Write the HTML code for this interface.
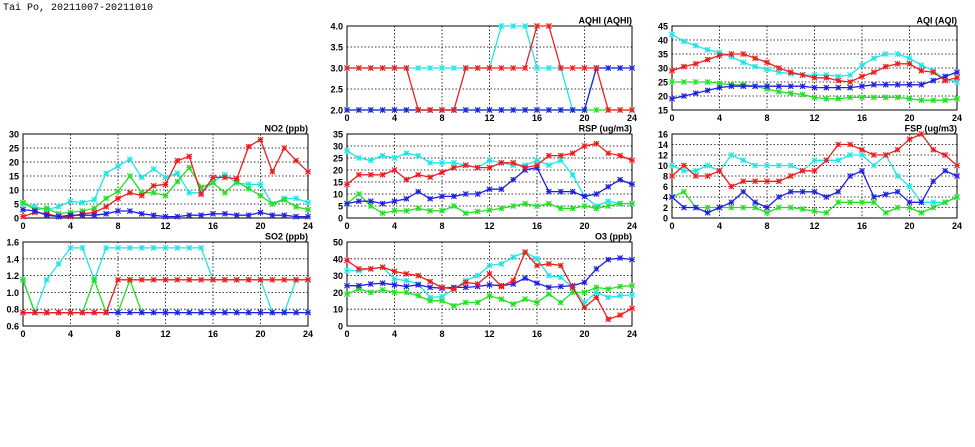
<!DOCTYPE html>
<html><head><meta charset="utf-8"><style>
html,body{margin:0;padding:0;background:#fff;}
svg{display:block;}
text{font-family:"Liberation Sans",sans-serif;font-weight:bold;font-size:9px;fill:#000;}
</style></head><body>
<svg id="c" width="975" height="447" viewBox="0 0 975 447" xmlns="http://www.w3.org/2000/svg">
<text x="3" y="10" style="font-family:'Liberation Mono',monospace;font-size:10px;font-weight:normal">Tai Po, 20211007-20211010</text>
</svg>
<script>
const hours = [0,1,2,3,4,5,6,7,8,9,10,11,12,13,14,15,16,17,18,19,20,21,22,23,24];
const xTicks = [0,4,8,12,16,20,24];

const no2Cyan = [5,4,3,4,6,5.5,6.5,16,18.5,21,14.5,17.5,14.5,16,9,9,13,15.5,12.5,12,12,5,7,7,5.5];
const no2Green = [5.5,3,3.5,1.5,2,2.5,3.5,7,9.5,15,9,9,8,13,18,11,12.5,9,13,10.5,8,5,6.5,4,3];
const no2Blue = [3,2.5,1,0.5,1,1,1,1.5,2.5,2.5,1.5,1,0.5,0.5,1,1,1.5,1.5,1,1,2,1,1,0.5,0.5];
const no2Red = [0.5,2,1.5,0.5,0.5,1.5,2,4,7,9,8,11.5,12,20.5,22,8.5,14.5,14.5,14,25.5,28,16.5,25,20.5,16.5];
const no2Ticks = [0,5,10,15,20,25,30];

const so2Cyan = [1.15,0.76,1.15,1.34,1.53,1.53,1.15,1.53,1.53,1.53,1.53,1.53,1.53,1.53,1.53,1.53,1.15,1.15,1.15,1.15,1.15,0.76,0.76,1.15,1.15];
const so2Green = [1.15,0.76,0.76,0.76,0.76,0.76,1.15,0.76,0.76,1.15,0.76,0.76,0.76,0.76,0.76,0.76,0.76,0.76,0.76,0.76,0.76,0.76,0.76,0.76,0.76];
const so2Blue = [0.76,0.76,0.76,0.76,0.76,0.76,0.76,0.76,0.76,0.76,0.76,0.76,0.76,0.76,0.76,0.76,0.76,0.76,0.76,0.76,0.76,0.76,0.76,0.76,0.76];
const so2Red = [0.76,0.76,0.76,0.76,0.76,0.76,0.76,0.76,1.15,1.15,1.15,1.15,1.15,1.15,1.15,1.15,1.15,1.15,1.15,1.15,1.15,1.15,1.15,1.15,1.15];
const so2Ticks = ["0.6","0.8","1.0","1.2","1.4","1.6"];

const aqhiCyan = [3,3,3,3,3,3,3,3,3,3,3,3,3,4,4,4,3,3,3,2,2,3,3,3,3];
const aqhiGreen = [2,2,2,2,2,2,2,2,2,2,2,2,2,2,2,2,2,2,2,2,2,2,2,2,2];
const aqhiBlue = [2,2,2,2,2,2,2,2,2,2,2,2,2,2,2,2,2,2,2,2,2,3,3,3,3];
const aqhiRed = [3,3,3,3,3,3,2,2,2,2,3,3,3,3,3,3,4,4,3,3,3,3,2,2,2];
const aqhiTicks = ["2.0","2.5","3.0","3.5","4.0"];

const aqiCyan = [42,39.5,38,36.5,35.5,34,32,30.5,29.5,28.5,28,27.5,27.5,27.5,27,27.5,31,33.5,35,35,33.5,31,29,26,25];
const aqiGreen = [25,25,25,25,24.5,24,24,23.5,22.5,21.5,21,20.5,19.5,19,19,19.5,19.5,19.5,19.5,19.5,19,18.5,18.5,18.5,19];
const aqiBlue = [19,20,21,22,23,23.5,23.5,23.5,23.5,23.5,23.5,23.5,23,23,23,23,23.5,24,24,24,24,24,25.5,27,28.5];
const aqiRed = [29,30.5,31.5,33,34.5,35,35,33.5,32,30,28.5,27.5,26.5,26.5,25.5,25,27,28.5,30.5,31.5,31.5,29,28.5,25.5,26.5];
const aqiTicks = [15,20,25,30,35,40,45];

const rspCyan = [28,25,24,26,25,27,26,23,23,23,22,21,24,23,22,22,24,22,24,18,9,5,7,6,6];
const rspGreen = [6,10,5,2,3,3,4,3,3,5,2,2.7,3.3,4,5,6,5,6,4,4,5,4,5,6,6];
const rspBlue = [6,7,7,6,7,8,11,8,9,9,10,10,12,12,16,20,21,11,11,11,9,10,13,16,14];
const rspRed = [14,18,18,18,20,16,18,17,19,21,22,21,21,23,23,21,22,26,26,27,30,31,27,26,24];
const rspTicks = [0,5,10,15,20,25,30,35];

const fspCyan = [10,9,9,10,9,12,11,10,10,10,10,9,11,11,11,12,12,10,12,8,6,3,3,3,4];
const fspGreen = [4,5,2,2,2,2,2,2,1,2,2,1.7,1.3,1,3,3,3,3,1,2,2,1,2,3,4];
const fspBlue = [4,2,2,1,2,3,5,3,2,4,5,5,5,4,5,8,9,4,4.5,5,3,3,7,9,8];
const fspRed = [8,10,8,8,9,6,7,7,7,7,8,9,9,11,14,14,13,12,12,13,15,16,13,12,10];
const fspTicks = [0,2,4,6,8,10,12,14,16];

const o3Cyan = [33,33,34,35,28,27,25,17,17.5,22,27,30,36,37,41,44,40,30,29,23,14,20,17,18,18.5];
const o3Green = [19,22,20,21.5,20,20,18,15,15,12,14,14,18,16,13,16,14,19,14,20,20,23,22,23.5,24];
const o3Blue = [24,24,25,25.5,24.5,23.5,24.5,23,22.5,23,23,23.5,24.5,24,25,28.5,25.5,23,23.5,24,26,34,39.5,40.5,39.5];
const o3Red = [39,34,34,35,32.5,31,30,26.5,23,22,26,25,31,23.5,27,44,36,37,36,23,11,17,4,6.5,10.5];
const o3Ticks = [0,10,20,30,40,50];

const NS = "http://www.w3.org/2000/svg";
const svg = document.getElementById('c');
const COLORS = {cyan:"#1ee6e6", green:"#22e022", blue:"#2020e0", red:"#ee1c1c"};

function mk(tag, attrs, parent){
  const e = document.createElementNS(NS, tag);
  for (const k in attrs) e.setAttribute(k, attrs[k]);
  (parent||svg).appendChild(e);
  return e;
}

function panel(name, title, left, top, ticks, series){
  const W = 285, H = 84;
  const g = mk('g', {});
  
  
  const ymin = parseFloat(ticks[0]), ymax = parseFloat(ticks[ticks.length-1]);
  const xs = h => left + h / 24 * W;
  const ys = v => top + H - (v - ymin) / (ymax - ymin) * H;
  // grid
  ticks.forEach((t, i) => {
    const y = ys(parseFloat(t));
    if (i > 0 && i < ticks.length - 1) {
      const l = mk('line', {x1:left, x2:left+W, y1:y, y2:y, stroke:"#000", 'stroke-width':0.8, 'stroke-dasharray':"1.5,2"}, g);
      
      
    }
    const tx = mk('text', {x:left-4, y:y+3.5, 'text-anchor':'end'}, g);
    tx.textContent = t;
    
    
  });
  xTicks.forEach((t, i) => {
    const x = xs(t);
    if (i > 0 && i < xTicks.length - 1) {
      const l = mk('line', {x1:x, x2:x, y1:top, y2:top+H, stroke:"#000", 'stroke-width':0.8, 'stroke-dasharray':"1.5,2"}, g);
      
      
    }
    const tx = mk('text', {x:x, y:top+H+11, 'text-anchor':'middle'}, g);
    tx.textContent = t;
    
    
  });
  const frame = mk('rect', {x:left, y:top, width:W, height:H, fill:"none", stroke:"#000", 'stroke-width':1}, g);
  
  
  const tt = mk('text', {x:left+W, y:top-2.5, 'text-anchor':'end'}, g);
  tt.textContent = title;
  
  
  // clip
  const cid = 'clip-' + name;
  const cp = mk('clipPath', {id:cid}, g);
  mk('rect', {x:left-4, y:top-4, width:W+8, height:H+8}, cp);
  series.forEach(([col, vals]) => {
    const sg = mk('g', {'clip-path':'url(#' + cid + ')'}, g);
    
    
    const pts = hours.map((h, i) => xs(h).toFixed(1) + ',' + ys(vals[i]).toFixed(1)).join(' ');
    const pl = mk('polyline', {points:pts, fill:"none", stroke:COLORS[col], 'stroke-width':1.3}, sg);
    
    
    hours.forEach((h, i) => {
      const x = xs(h), y = ys(vals[i]), r = 2.6;
      const m = mk('path', {d:`M${x-r},${y-r}L${x+r},${y+r}M${x-r},${y+r}L${x+r},${y-r}M${x-r},${y}L${x+r},${y}M${x},${y-r}L${x},${y+r}`, stroke:COLORS[col], 'stroke-width':1.1}, sg);
      
      
    });
  });
}

panel('aqhi', 'AQHI (AQHI)', 347, 26, aqhiTicks, [['cyan',aqhiCyan],['green',aqhiGreen],['blue',aqhiBlue],['red',aqhiRed]]);
panel('aqi', 'AQI (AQI)', 672, 26, aqiTicks, [['cyan',aqiCyan],['green',aqiGreen],['blue',aqiBlue],['red',aqiRed]]);
panel('no2', 'NO2 (ppb)', 23, 134, no2Ticks, [['cyan',no2Cyan],['green',no2Green],['red',no2Red],['blue',no2Blue]]);
panel('rsp', 'RSP (ug/m3)', 347, 134, rspTicks, [['cyan',rspCyan],['green',rspGreen],['blue',rspBlue],['red',rspRed]]);
panel('fsp', 'FSP (ug/m3)', 672, 134, fspTicks, [['cyan',fspCyan],['green',fspGreen],['blue',fspBlue],['red',fspRed]]);
panel('so2', 'SO2 (ppb)', 23, 242, so2Ticks, [['cyan',so2Cyan],['green',so2Green],['blue',so2Blue],['red',so2Red]]);
panel('o3', 'O3 (ppb)', 347, 242, o3Ticks, [['cyan',o3Cyan],['green',o3Green],['blue',o3Blue],['red',o3Red]]);
</script>
</body></html>
